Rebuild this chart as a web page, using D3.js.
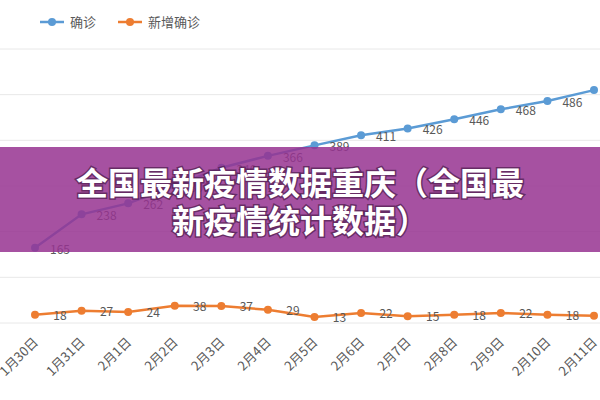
<!DOCTYPE html>
<html><head><meta charset="utf-8">
<script src="https://cdn.jsdelivr.net/npm/d3@7/dist/d3.min.js"></script>
<style>body{margin:0;background:#fff;font-family:"Noto Sans CJK SC",sans-serif;}</style>
</head><body><svg id="c" width="600" height="400"></svg>
<script>
var dates = ['1月30日','1月31日','2月1日','2月2日','2月3日','2月4日','2月5日','2月6日','2月7日','2月8日','2月9日','2月10日','2月11日'];
var confirmed = [165, 238, 262, 300, 340, 366, 389, 411, 426, 446, 468, 486, 510];
var added = [18, 27, 24, 38, 37, 29, 13, 22, 15, 18, 22, 18, 16];
var seriesNames = ['确诊', '新增确诊'];
var colors = ['#5b9bd5', '#ed7d31'];

var svg = d3.select('#c');
var x = d3.scalePoint().domain(dates).range([35, 594]);
var y = d3.scaleLinear().domain([0, 600]).range([323, 49]);

// faint grid
svg.append('g').selectAll('line').data(d3.range(0, 601, 100)).enter().append('line')
  .attr('x1', 0).attr('x2', 600)
  .attr('y1', function(d) { return y(d); }).attr('y2', function(d) { return y(d); })
  .attr('stroke', '#e8e8e8');

// x labels
svg.append('g').selectAll('text').data(dates).enter().append('text')
  .attr('transform', function(d) { return 'translate(' + (x(d) + 4) + ',343) rotate(-45)'; })
  .attr('text-anchor', 'end').attr('font-size', 13).attr('fill', '#595959')
  .text(function(d) { return d; });

[confirmed, added].forEach(function(vals, si) {
  var line = d3.line().x(function(d, i) { return x(dates[i]); }).y(function(d) { return y(d); });
  svg.append('path').datum(vals).attr('d', line).attr('fill', 'none')
    .attr('stroke', colors[si]).attr('stroke-width', 2.5);
  svg.append('g').selectAll('circle').data(vals).enter().append('circle')
    .attr('cx', function(d, i) { return x(dates[i]); }).attr('cy', function(d) { return y(d); })
    .attr('r', 4).attr('fill', colors[si]);
  svg.append('g').selectAll('text').data(vals.slice(0, 12)).enter().append('text')
    .attr('x', function(d, i) { return x(dates[i]) + 25; })
    .attr('y', function(d) { return y(d) + (si === 0 ? 6 : 5); })
    .attr('text-anchor', 'middle').attr('font-size', 12).attr('fill', '#595959')
    .text(function(d) { return d; });
});

// legend
var lg = svg.append('g');
[[40, 0], [118, 1]].forEach(function(p) {
  var g = lg.append('g').attr('transform', 'translate(' + p[0] + ',22)');
  g.append('line').attr('x1', 0).attr('x2', 24).attr('stroke', colors[p[1]]).attr('stroke-width', 2.5);
  g.append('circle').attr('cx', 12).attr('r', 4).attr('fill', colors[p[1]]);
  g.append('text').attr('x', 30).attr('y', 5).attr('font-size', 13).attr('fill', '#595959').text(seriesNames[p[1]]);
});

// banner
svg.append('rect').attr('x', 0).attr('y', 147).attr('width', 600).attr('height', 105)
  .attr('fill', 'rgba(150,50,145,0.85)');
['全国最新疫情数据重庆（全国最', '新疫情统计数据）'].forEach(function(t, i) {
  svg.append('text').attr('x', 300).attr('y', 195 + i * 38).attr('text-anchor', 'middle')
    .attr('font-size', 32).attr('font-weight', 'bold').attr('fill', '#fff')
    .style('paint-order', 'stroke').attr('stroke', 'rgba(60,20,60,0.6)').attr('stroke-width', 3)
    .text(t);
});
</script></body></html>
